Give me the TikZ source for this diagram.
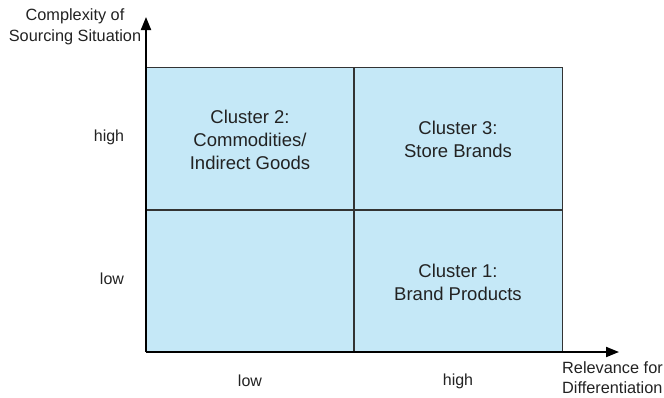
\documentclass[tikz,border=0pt]{standalone}
\usepackage{fontspec}
\setmainfont{Liberation Sans}
\usetikzlibrary{arrows.meta}
\definecolor{cellfill}{HTML}{C5E8F7}
\definecolor{txt}{HTML}{222222}
\definecolor{edge}{HTML}{333333}
\begin{document}
\begin{tikzpicture}[x=1pt,y=-1pt,
  axis/.style={line width=2pt,draw=black,-{Triangle[length=13pt,width=10pt]}},
  cluster/.style={align=center,text=txt,font=\fontsize{18.5}{23}\selectfont,inner sep=0pt},
  tick/.style={text=txt,font=\fontsize{16}{20}\selectfont,inner sep=0pt},
  axlabel/.style={text=txt,font=\fontsize{16.3}{20.5}\selectfont,inner sep=0pt}]
\useasboundingbox (0,0) rectangle (664,397);
\fill[cellfill] (146,67) rectangle (562,352);
\draw[edge,line width=1pt] (146,67) -- (562,67) -- (562,352);
\coordinate (tm) at (354,67);
\coordinate (bm) at (354,352);
\coordinate (lm) at (146,210);
\coordinate (rm) at (562,210);
\draw[edge,line width=1.5pt] (tm) -- (bm);
\draw[edge,line width=1.5pt] (lm) -- (rm);
\coordinate (o) at (146,352);
\coordinate (ytip) at (146,17);
\coordinate (xtip) at (619,352);
\draw[axis] (o) -- (ytip);
\draw[axis] (o) -- (xtip);
\node[cluster] (c2) at (250,140) {Cluster 2:\\Commodities/\\Indirect Goods};
\node[cluster] (c3) at (458,139.5) {Cluster 3:\\Store Brands};
\node[cluster] (c1) at (458,282) {Cluster 1:\\Brand Products};
\node[tick] (yh) at (109,137) {high};
\node[tick] (yl) at (112,279) {low};
\node[tick] (xl) at (250,381) {low};
\node[tick] (xh) at (458,381) {high};
\node[axlabel,align=center] (ylab) at (75,27) {Complexity of\\Sourcing Situation};
\node[axlabel,align=left,anchor=west] (xlab) at (562,377.5) {Relevance for\\Differentiation};
\end{tikzpicture}
\end{document}
